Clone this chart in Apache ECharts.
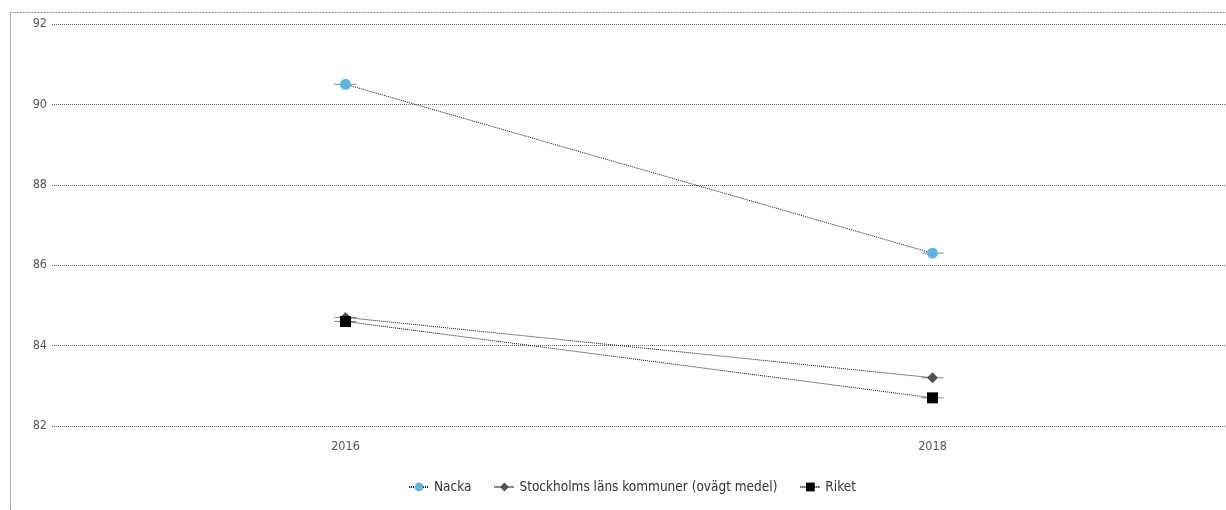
<!DOCTYPE html>
<html><head><meta charset="utf-8">
<script src="https://cdn.jsdelivr.net/npm/echarts@6/dist/echarts.min.js"></script>
<style>html,body{margin:0;padding:0;background:#fff}#c{width:1226px;height:510px}</style>
</head><body><div id="c"></div>
<script>
const categories = ['2016', '2018'];
const nacka = [90.5, 86.3];
const stockholm = [84.7, 83.2];
const riket = [84.6, 82.7];
const yTicks = [82, 84, 86, 88, 90, 92];

const FONT = '"DejaVu Sans Condensed", "DejaVu Sans", sans-serif';
const chart = echarts.init(document.getElementById('c'));
function stub(data) {
  return {
    type: 'scatter', data: data, symbol: 'rect', symbolSize: [22, 1],
    itemStyle: { color: '#666' }, z: 1, silent: true, legendHoverLink: false
  };
}
chart.setOption({
  animation: false,
  textStyle: { fontFamily: FONT },
  graphic: [{
    type: 'rect', left: 8, top: 10, shape: { x: 0.5, y: 0.5, width: 1400, height: 700 },
    style: { fill: 'none', stroke: '#888', lineWidth: 1, lineDash: [2, 1] }, silent: true
  }],
  grid: { left: 52, right: 0, top: 24, bottom: 84 },
  legend: {
    bottom: 11, left: 403, itemGap: 22, itemWidth: 20, itemHeight: 11,
    textStyle: { fontFamily: FONT, fontSize: 13.5, color: '#333' },
    data: ['Nacka', 'Stockholms läns kommuner (ovägt medel)', 'Riket']
  },
  xAxis: {
    type: 'category', data: categories,
    axisLine: { show: false }, axisTick: { show: false },
    axisLabel: { fontFamily: FONT, fontSize: 12.5, color: '#555', margin: 14 }
  },
  yAxis: {
    type: 'value', min: yTicks[0], max: yTicks[yTicks.length - 1], interval: 2,
    axisLine: { show: false }, axisTick: { show: false },
    axisLabel: { fontFamily: FONT, fontSize: 12.5, color: '#555', margin: 5 },
    splitLine: { lineStyle: { color: '#666', type: [1, 1], width: 1 } }
  },
  series: [
    stub(nacka), stub(stockholm), stub(riket),
    {
      name: 'Nacka', type: 'line', data: nacka, symbol: 'circle', symbolSize: 11,
      itemStyle: { color: '#5ab4e5' },
      lineStyle: { color: '#111', width: 1, type: [1, 1] }, z: 3
    },
    {
      name: 'Stockholms läns kommuner (ovägt medel)', type: 'line', data: stockholm,
      symbol: 'diamond', symbolSize: 11,
      itemStyle: { color: '#555' },
      lineStyle: { color: '#111', width: 1, type: [1, 1] }, z: 3
    },
    {
      name: 'Riket', type: 'line', data: riket, symbol: 'rect', symbolSize: 11,
      itemStyle: { color: '#000' },
      lineStyle: { color: '#111', width: 1, type: [1, 1] }, z: 3
    }
  ]
});
</script></body></html>
